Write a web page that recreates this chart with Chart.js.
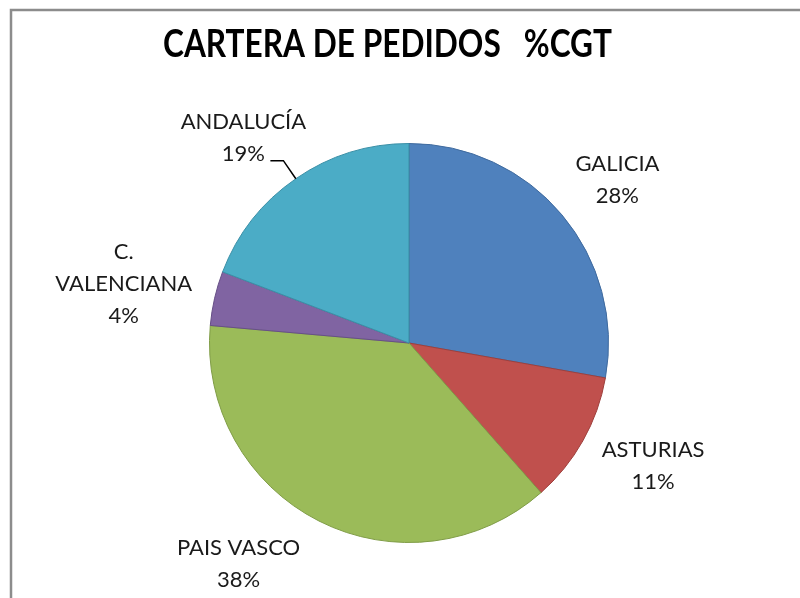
<!DOCTYPE html>
<html>
<head>
<meta charset="utf-8">
<script src="https://cdn.jsdelivr.net/npm/chart.js@4/dist/chart.umd.min.js"></script>
<style>
  html, body { margin: 0; padding: 0; background: #ffffff; }
  #wrap { width: 800px; height: 598px; position: relative; }
</style>
</head>
<body>
<div id="wrap"><canvas id="c" width="800" height="598"></canvas></div>
<script>
const title = 'CARTERA DE PEDIDOS   %CGT';
const categories = ['GALICIA', 'ASTURIAS', 'PAIS VASCO', 'C. VALENCIANA', 'ANDALUCÍA'];
const labelLines = [['GALICIA'], ['ASTURIAS'], ['PAIS VASCO'], ['C.', 'VALENCIANA'], ['ANDALUCÍA']];
const values = [27.8, 10.7, 37.9, 4.4, 19.2];
const colors = ['#4F81BD', '#C0504D', '#9BBB59', '#8064A2', '#4BACC6'];
const borderColors = ['#3f6a9e', '#9e3f3c', '#7f9c46', '#664f86', '#3a8fa6'];

// label placement (style): distance factor from outer radius, angle tweak in degrees
const labelPlace = [
  { f: 1.325, da: 2.0 },
  { f: 1.37, da: -2.6 },
  { f: 1.40, da: 10.8 },
  { f: 1.46, da: -1.3 },
  { f: 1.323, da: -4.3 }
];
const leaderFor = [false, false, false, false, true];

const total = values.reduce((a, b) => a + b, 0);

const decor = {
  id: 'decor',
  afterDraw(chart) {
    const ctx = chart.ctx;
    ctx.save();
    // frame
    ctx.strokeStyle = '#8c8c8c';
    ctx.lineWidth = 2.5;
    ctx.beginPath();
    ctx.moveTo(11, 598);
    ctx.lineTo(11, 10);
    ctx.lineTo(800, 10);
    ctx.stroke();

    // title
    ctx.fillStyle = '#000000';
    ctx.font = 'bold 38px Lato';
    ctx.textAlign = 'center';
    ctx.textBaseline = 'alphabetic';
    const tw = ctx.measureText(title).width;
    const sx = 449 / tw;
    ctx.save();
    ctx.translate(387.5, 57);
    ctx.scale(sx, 1);
    ctx.fillText(title, 0, 0);
    ctx.restore();

    // labels
    const meta = chart.getDatasetMeta(0);
    ctx.font = '22px Lato';
    ctx.fillStyle = '#1a1a1a';
    ctx.textBaseline = 'middle';
    ctx.textAlign = 'center';
    const lh = 32;
    meta.data.forEach((arc, i) => {
      const p = arc.getProps(['x', 'y', 'startAngle', 'endAngle', 'outerRadius'], true);
      const mid = (p.startAngle + p.endAngle) / 2;
      const a = mid + labelPlace[i].da * Math.PI / 180;
      const d = p.outerRadius * labelPlace[i].f;
      const lx = p.x + d * Math.cos(a);
      const ly = p.y + d * Math.sin(a);
      const lines = labelLines[i].concat([Math.round(values[i] / total * 100) + '%']);
      const y0 = ly - (lines.length - 1) * lh / 2;
      lines.forEach((t, k) => ctx.fillText(t, lx, y0 + k * lh));
      if (leaderFor[i]) {
        const ax = p.x + p.outerRadius * Math.cos(mid);
        const ay = p.y + p.outerRadius * Math.sin(mid);
        const ex = p.x + p.outerRadius * 1.11 * Math.cos(mid);
        const ey = p.y + p.outerRadius * 1.11 * Math.sin(mid);
        ctx.strokeStyle = '#000000';
        ctx.lineWidth = 1.5;
        ctx.beginPath();
        ctx.moveTo(ax, ay);
        ctx.lineTo(ex, ey);
        ctx.lineTo(ex - 13, ey);
        ctx.stroke();
      }
    });
    ctx.restore();
  }
};

new Chart(document.getElementById('c'), {
  type: 'pie',
  data: {
    labels: categories,
    datasets: [{
      data: values,
      backgroundColor: colors,
      borderColor: borderColors,
      borderWidth: 1
    }]
  },
  options: {
    responsive: false,
    animation: false,
    layout: { padding: { top: 143, left: 209, right: 191, bottom: 55 } },
    plugins: {
      legend: { display: false },
      title: { display: false },
      tooltip: { enabled: false }
    }
  },
  plugins: [decor]
});
</script>
</body>
</html>
